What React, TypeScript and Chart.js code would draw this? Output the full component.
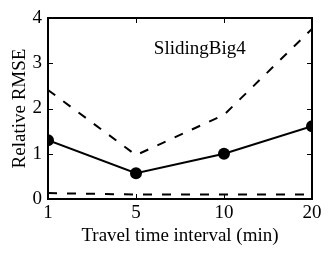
import React, { useEffect, useRef } from "react";
import { Chart, registerables } from "chart.js";

Chart.register(...registerables);

const categories = ["1", "5", "10", "20"];
const meanValues = [1.3, 0.57, 1.0, 1.61];
const upperValues = [2.41, 0.97, 1.86, 3.76];
const lowerValues = [0.13, 0.1, 0.1, 0.1];
const yTicks = [0, 1, 2, 3, 4];
const annotation = "SlidingBig4";
const xTitle = "Travel time interval (min)";
const yTitle = "Relative RMSE";

const FONT = "'Liberation Serif', 'Times New Roman', serif";

const framePlugin = {
  id: "frame",
  afterDraw(chart: any) {
    const { ctx, chartArea } = chart;
    const { left, right, top, bottom } = chartArea;
    const xs = chart.scales.x;
    const ys = chart.scales.y;
    ctx.save();
    ctx.strokeStyle = "#000";
    ctx.lineWidth = 2;
    ctx.strokeRect(left, top, right - left, bottom - top);
    ctx.lineWidth = 1;
    const t = 5;
    ctx.beginPath();
    yTicks.forEach((v) => {
      const y = Math.round(ys.getPixelForValue(v)) + 0.5;
      ctx.moveTo(left, y);
      ctx.lineTo(left + t, y);
      ctx.moveTo(right, y);
      ctx.lineTo(right - t, y);
    });
    categories.forEach((_, i) => {
      const x = Math.round(xs.getPixelForValue(i)) + 0.5;
      ctx.moveTo(x, bottom);
      ctx.lineTo(x, bottom - t);
      ctx.moveTo(x, top);
      ctx.lineTo(x, top + t);
    });
    ctx.stroke();
    ctx.fillStyle = "#000";
    ctx.font = `19px ${FONT}`;
    ctx.textAlign = "center";
    ctx.textBaseline = "middle";
    ctx.fillText(annotation, left + (right - left) * 0.575, top + 31);
    ctx.restore();
  },
};

export default function App() {
  const ref = useRef<HTMLCanvasElement>(null);
  useEffect(() => {
    if (!ref.current) return;
    const chart = new Chart(ref.current, {
      type: "line",
      data: {
        labels: categories,
        datasets: [
          {
            data: meanValues,
            borderColor: "#000",
            backgroundColor: "#000",
            borderWidth: 2,
            pointRadius: 6,
            pointBackgroundColor: "#000",
            pointBorderWidth: 0,
            clip: 0,
          } as any,
          {
            data: upperValues,
            borderColor: "#000",
            borderWidth: 2,
            borderDash: [9, 10],
            pointRadius: 0,
            clip: 0,
          },
          {
            data: lowerValues,
            borderColor: "#000",
            borderWidth: 2,
            borderDash: [9, 10],
            pointRadius: 0,
            clip: 0,
          },
        ],
      },
      options: {
        animation: false,
        responsive: true,
        maintainAspectRatio: false,
        layout: { padding: { top: 18, right: 21, left: 0, bottom: 0 } },
        plugins: {
          legend: { display: false },
          tooltip: { enabled: false },
        },
        scales: {
          x: {
            type: "category",
            offset: false,
            grid: { display: false, drawTicks: false },
            border: { display: false },
            ticks: {
              color: "#000",
              font: { family: FONT, size: 19 },
              padding: 3,
              maxRotation: 0,
              autoSkip: false,
            },
            title: {
              display: true,
              text: xTitle,
              color: "#000",
              font: { family: FONT, size: 19 },
              padding: { top: 0, bottom: 7 },
            },
            afterFit: (s: any) => {
              s.height = 55;
            },
          },
          y: {
            min: 0,
            max: 4,
            grid: { display: false, drawTicks: false },
            border: { display: false },
            ticks: {
              stepSize: 1,
              color: "#000",
              font: { family: FONT, size: 19 },
              padding: 6,
            },
            title: {
              display: true,
              text: yTitle,
              color: "#000",
              font: { family: FONT, size: 19 },
              padding: { top: 9, bottom: 0 },
            },
            afterFit: (s: any) => {
              s.width = 48;
            },
          },
        },
      },
      plugins: [framePlugin],
    });
    return () => chart.destroy();
  }, []);
  return (
    <div style={{ position: "fixed", left: 0, top: 0, width: 333, height: 254, background: "#fff" }}>
      <canvas ref={ref} />
    </div>
  );
}
